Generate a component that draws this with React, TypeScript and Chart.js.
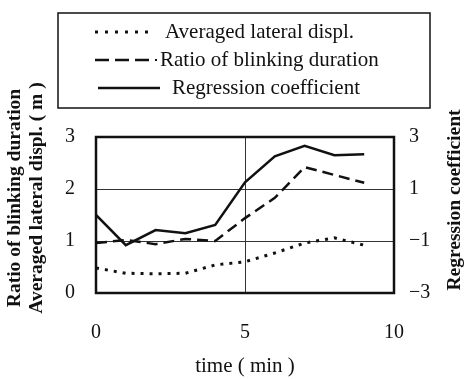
import React, { useEffect, useRef } from "react";
import { Chart, registerables } from "chart.js";

Chart.register(...registerables);

const times = [0, 1, 2, 3, 4, 5, 6, 7, 8, 9];
const lateralDispl = [0.48, 0.38, 0.37, 0.38, 0.54, 0.6, 0.77, 0.96, 1.06, 0.92];
const blinkRatio = [0.96, 1.02, 0.94, 1.04, 1.0, 1.44, 1.83, 2.42, 2.27, 2.12];
const regressionCoef = [0.0, -1.16, -0.58, -0.7, -0.38, 1.26, 2.26, 2.66, 2.3, 2.34];

const seriesNames = ["Averaged lateral displ.", "Ratio of blinking duration", "Regression coefficient"];
const leftTitle = ["Ratio of blinking duration", "Averaged lateral displ. ( m )"];
const rightTitle = "Regression coefficient";
const xTitle = "time ( min )";
const leftTicks = [0, 1, 2, 3];
const rightTicks = [-3, -1, 1, 3];
const xTicks = [0, 5, 10];

const FONT = '"Liberation Serif", "Times New Roman", serif';
const INK = "#111";

const fmt = (v: number) => (v < 0 ? "\u2212" + Math.abs(v) : String(v));

const decorPlugin = {
  id: "decor",
  afterDatasetsDraw(chart: any) {
    const { ctx, chartArea: a } = chart;
    ctx.save();
    ctx.strokeStyle = INK;
    ctx.lineWidth = 2.5;
    ctx.setLineDash([]);
    ctx.strokeRect(a.left, a.top, a.right - a.left, a.bottom - a.top);
    ctx.restore();
  },
  afterDraw(chart: any) {
    const { ctx } = chart;
    ctx.save();
    ctx.fillStyle = INK;
    ctx.strokeStyle = INK;
    // legend box
    ctx.lineWidth = 1.5;
    ctx.strokeRect(58, 13, 372, 95);
    ctx.font = "21px " + FONT;
    ctx.textBaseline = "middle";
    ctx.textAlign = "left";
    // row 1 dotted
    ctx.lineWidth = 3;
    ctx.setLineDash([3, 7]);
    ctx.beginPath();
    ctx.moveTo(95, 32);
    ctx.lineTo(155, 32);
    ctx.stroke();
    ctx.setLineDash([]);
    ctx.fillText(seriesNames[0], 165, 32);
    // row 2 dashed
    ctx.lineWidth = 2.5;
    ctx.setLineDash([14, 6]);
    ctx.beginPath();
    ctx.moveTo(95, 60);
    ctx.lineTo(150, 60);
    ctx.stroke();
    ctx.setLineDash([]);
    ctx.fillRect(155, 59, 2, 2);
    ctx.fillText(seriesNames[1], 160, 60);
    // row 3 solid
    ctx.beginPath();
    ctx.moveTo(98, 88);
    ctx.lineTo(160, 88);
    ctx.stroke();
    ctx.fillText(seriesNames[2], 172, 88);
    // rotated axis titles
    ctx.font = "bold 19.5px " + FONT;
    ctx.textAlign = "center";
    const rot = (text: string, x: number, y: number) => {
      ctx.save();
      ctx.translate(x, y);
      ctx.rotate(-Math.PI / 2);
      ctx.fillText(text, 0, 0);
      ctx.restore();
    };
    rot(leftTitle[0], 15, 198);
    rot(leftTitle[1], 37, 198);
    rot(rightTitle, 455, 200);
    ctx.restore();
  },
};

export default function App() {
  const ref = useRef<HTMLCanvasElement | null>(null);
  useEffect(() => {
    if (!ref.current) return;
    const mk = (vals: number[]) => times.map((t, i) => ({ x: t, y: vals[i] }));
    const chart = new Chart(ref.current, {
      type: "line",
      data: {
        datasets: [
          {
            label: seriesNames[0],
            data: mk(lateralDispl),
            yAxisID: "y",
            borderColor: INK,
            borderWidth: 3,
            borderDash: [3, 6],
            pointRadius: 0,
            fill: false,
          },
          {
            label: seriesNames[1],
            data: mk(blinkRatio),
            yAxisID: "y",
            borderColor: INK,
            borderWidth: 2.5,
            borderDash: [11, 6],
            pointRadius: 0,
            fill: false,
          },
          {
            label: seriesNames[2],
            data: mk(regressionCoef),
            yAxisID: "y2",
            borderColor: INK,
            borderWidth: 2.5,
            pointRadius: 0,
            fill: false,
          },
        ],
      },
      options: {
        animation: false,
        responsive: false,
        maintainAspectRatio: false,
        layout: { padding: { top: 137, left: 0, right: 0, bottom: 0 } },
        plugins: { legend: { display: false }, tooltip: { enabled: false } },
        scales: {
          x: {
            type: "linear",
            min: 0,
            max: 10,
            afterBuildTicks: (s: any) => {
              s.ticks = xTicks.map((v) => ({ value: v }));
            },
            afterFit: (s: any) => {
              s.height = 86;
            },
            ticks: { color: INK, font: { family: FONT, size: 20 }, padding: 28, maxRotation: 0 },
            grid: { color: "#333", lineWidth: 1, drawTicks: false },
            border: { display: false },
            title: { display: true, text: xTitle, color: INK, font: { family: FONT, size: 21 }, padding: { top: 0, bottom: 0 } },
          },
          y: {
            position: "left",
            min: 0,
            max: 3,
            afterBuildTicks: (s: any) => {
              s.ticks = leftTicks.map((v) => ({ value: v }));
            },
            afterFit: (s: any) => {
              s.width = 96;
            },
            ticks: { color: INK, font: { family: FONT, size: 20 }, padding: 21, callback: (v: any) => fmt(Number(v)) },
            grid: { color: "#333", lineWidth: 1, drawTicks: false },
            border: { display: false },
          },
          y2: {
            position: "right",
            min: -3,
            max: 3,
            afterBuildTicks: (s: any) => {
              s.ticks = rightTicks.map((v) => ({ value: v }));
            },
            afterFit: (s: any) => {
              s.width = 70;
            },
            ticks: { color: INK, font: { family: FONT, size: 20 }, padding: 15, callback: (v: any) => fmt(Number(v)) },
            grid: { display: false, drawTicks: false },
            border: { display: false },
          },
        },
      },
      plugins: [decorPlugin],
    });
    return () => chart.destroy();
  }, []);
  return (
    <div style={{ position: "fixed", left: 0, top: 0, width: 464, height: 379, background: "#fff" }}>
      <canvas ref={ref} width={464} height={379} style={{ width: 464, height: 379 }} />
    </div>
  );
}
